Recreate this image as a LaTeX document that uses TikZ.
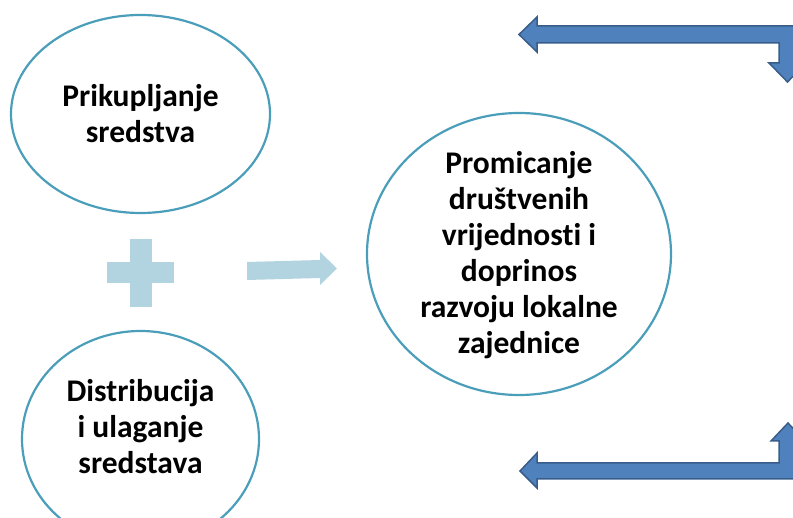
\documentclass[tikz,border=0pt]{standalone}
\usepackage{fontspec}
\setmainfont{Carlito}[Ligatures=NoCommon]
\usetikzlibrary{calc}
\definecolor{ringcol}{RGB}{75,158,186}
\definecolor{paleblue}{RGB}{178,211,224}
\definecolor{arrowfill}{RGB}{79,129,189}
\definecolor{arrowedge}{RGB}{56,93,138}

\begin{document}
\begin{tikzpicture}[x=1pt, y=-1pt,
    ring/.style={draw=ringcol, line width=2.2pt},
    bubbletext/.style={align=center, inner sep=0pt, font=\fontsize{31.5}{36}\selectfont\bfseries},
    blockarrow/.style={fill=arrowfill, draw=arrowedge, line width=1.5pt, line join=miter}]
    \useasboundingbox (0,0) rectangle (793,518);

    \coordinate (R) at (140.5,114);
    \coordinate (D) at (140.5,439);
    \coordinate (P) at (519,254);

    \draw[ring] (R) ellipse [x radius=129.5, y radius=99];
    \draw[ring] (D) ellipse [x radius=118.5, y radius=108];
    \draw[ring] (P) ellipse [x radius=152, y radius=141];

    \node[bubbletext] (raise) at (R) {Prikupljanje\\sredstva};
    \node[bubbletext] (invest) at ($(D)+(0,-12)$) {Distribucija\\i ulaganje\\sredstava};
    \node[bubbletext] (promo) at ($(P)+(0,1)$) {Promicanje\\društvenih\\vrijednosti i\\doprinos\\razvoju lokalne\\zajednice};

    \fill[paleblue] (107,262) rectangle (174,283);
    \fill[paleblue] (130,239) rectangle (152,307);
    \fill[paleblue] (247,262) -- (320,260) -- (320,252) -- (337,268.5)
        -- (320,285) -- (320,278) -- (247,280) -- cycle;

    \draw[blockarrow] (519,34.5) -- (537,17) -- (537,26) -- (796,26) -- (796,63)
        -- (806,63) -- (787.5,82) -- (769,63) -- (779,63) -- (779,43)
        -- (537,43) -- (537,52) -- cycle;
    \draw[blockarrow] (520,471) -- (537,453) -- (537,463) -- (779,463) -- (779,441)
        -- (771,441) -- (788,423) -- (805,441) -- (796,441) -- (796,479)
        -- (537,479) -- (537,488) -- cycle;
\end{tikzpicture}
\end{document}
